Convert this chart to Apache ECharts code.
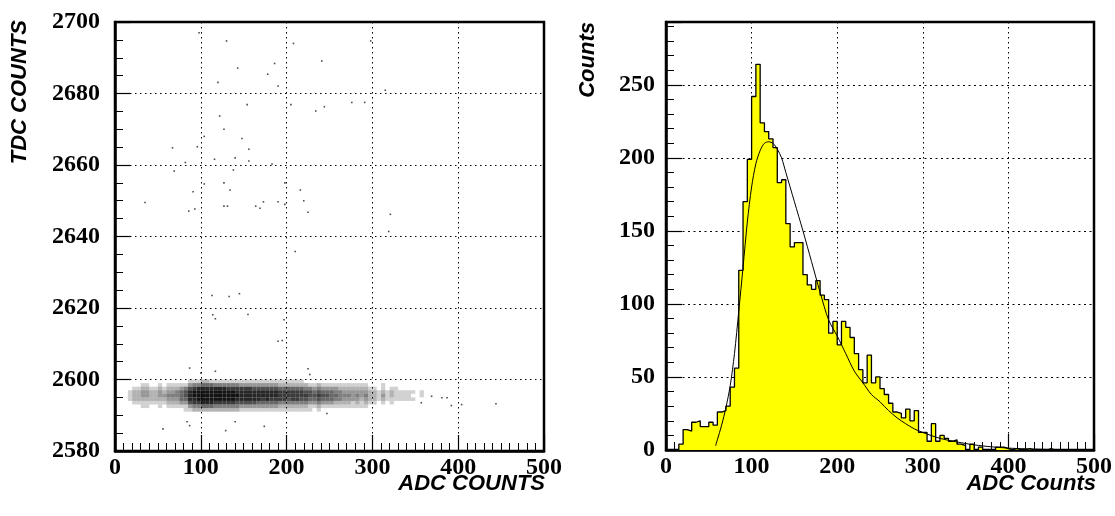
<!DOCTYPE html>
<html>
<head>
<meta charset="utf-8">
<script src="https://cdn.jsdelivr.net/npm/echarts@6/dist/echarts.min.js"></script>
<style>
  html, body { margin: 0; padding: 0; background: #fff; }
  #chart { width: 1115px; height: 516px; }
</style>
</head>
<body>
<div id="chart"></div>
<script>
// ADC spectrum, counts per 5-channel bin from 0 to 500
const BIN_WIDTH = 5;
const adcCounts = [
  0, 0, 0, 4, 14, 13, 19, 20, 16, 16,
  19, 17, 26, 27, 30, 43, 56, 123, 170, 199,
  242, 264, 224, 218, 213, 207, 183, 185, 155, 139,
  142, 142, 120, 113, 110, 116, 106, 103, 80, 88,
  72, 88, 84, 77, 66, 55, 46, 65, 46, 50,
  42, 38, 32, 26, 25, 22, 28, 20, 27, 12,
  12, 6, 18, 6, 10, 8, 6, 7, 4, 3,
  0, 4, 0, 2, 0, 0, 0, 2, 2, 1,
  0, 1, 0, 0, 1, 0, 0, 0, 0, 1,
  0, 0, 0, 0, 0, 0, 0, 0, 0, 0
];

// fitted curve
const fitAdc = [58, 60, 65, 70, 75, 80, 85, 90, 95, 100, 105, 110, 115, 120, 125, 130, 135, 140, 145, 150,
  160, 170, 180, 190, 200, 210, 220, 230, 240, 250, 260, 270, 280, 290, 300, 320, 340, 360, 380, 400, 420, 450, 500];
const fitCounts = [3, 7, 17, 29, 44, 66, 95, 125, 156, 180, 196, 205, 210, 211, 210, 206, 200, 190, 180, 170,
  150, 129, 108, 89, 78, 66, 54, 46, 38, 33, 27, 22, 18, 14.5, 12, 8, 5.5, 3.5, 2.2, 1.3, 0.8, 0.3, 0.05];

// TDC vs ADC band: darkness 0-9 per 5-channel ADC slice, rows TDC 2599 (top) .. 2591 (bottom)
const BAND_ADC0 = 10;
const BAND_TDC_TOP = 2599;
const bandColumns = [
  '000000000', '000111000', '001222100', '001222100', '012332110', '012332110', '001222100', '001222100',
  '012332110', '001232100', '012343210', '012343210', '012443210', '013555310', '014665311', '136888631',
  '147998742', '148999742', '258999852', '258999852', '158999852', '148999742', '148999742', '148999742',
  '147999742', '147999742', '147898642', '137888631', '137888631', '137888631', '136888631', '136888531',
  '136887531', '136888531', '136887531', '136887531', '125777421', '125777421', '125776421', '125777421',
  '125777421', '125776421', '024676421', '014665311', '013565310', '024676421', '013565310', '013565310',
  '013555310', '013454210', '012444210', '012343210', '012343210', '012333110', '012343210', '012332110',
  '012343210', '001222100', '001222100', '000111000', '011232100', '000111000', '001221100', '001111000',
  '000111000', '000111000', '000111000', '000101000', '000000000', '000110000'
];

// isolated events [ADC, TDC]
const scatterPoints = [
  [98, 2697], [130, 2694.7], [208, 2694], [298, 2694.7], [241, 2689.1], [186, 2688.4], [143, 2687.1],
  [178, 2685.4], [120, 2683.1], [190, 2682.1], [315, 2680.9], [154, 2676.9], [205, 2676.9], [276, 2677.5],
  [291, 2677.5], [244, 2676.3], [234, 2675.1], [122, 2673.7], [127, 2670], [104, 2668], [148, 2667.4],
  [67, 2664.8], [96, 2665.1], [156, 2664.4], [116, 2661.6], [140, 2662], [156, 2661.1], [82, 2660.7],
  [183, 2660.3], [69, 2658.3], [138, 2658.6], [104, 2654.7], [127, 2655], [198, 2655], [134, 2653],
  [91, 2652.5], [216, 2653], [220, 2650], [35, 2649.5], [127, 2648.5], [131, 2648.5], [173, 2649.7],
  [190, 2649.7], [198, 2649], [164, 2648.5], [169, 2647.9], [86, 2647.1], [93, 2647.7], [225, 2646.8],
  [321, 2646.2], [319, 2641.4], [210, 2635.8], [113, 2623.5], [133, 2623.2], [145, 2624], [114, 2618.1],
  [117, 2617], [155, 2618.2], [197, 2616.7], [190, 2610.7], [195, 2610.9],
  [56, 2586.2], [129, 2585.7], [140, 2588.2], [174, 2586.9], [84, 2588.2], [87, 2587.1], [247, 2590.5],
  [87, 2603.2], [117, 2602.3], [225, 2603], [227, 2601.4], [100, 2601.8],
  [369, 2595.3], [381, 2594.9], [387, 2594.9], [357, 2593.5], [392, 2592.7], [404, 2593], [444, 2593.2]
];

const histData = adcCounts.map((c, i) => [i * BIN_WIDTH, c]);
histData.push([adcCounts.length * BIN_WIDTH, adcCounts[adcCounts.length - 1]]);

const bandData = [];
bandColumns.forEach((col, i) => {
  for (let r = 0; r < col.length; r++) {
    const d = +col[r];
    if (d > 0) bandData.push([BAND_ADC0 + i * BIN_WIDTH, BAND_TDC_TOP - r, d]);
  }
});

const labelFont = { fontFamily: 'Liberation Serif', fontWeight: 'bold', fontSize: 24, color: '#000' };
const titleFont = 'italic bold 22px "Liberation Sans"';
const gridDots = { show: true, lineStyle: { color: '#000', width: 1, type: [1.5, 3.5] } };
const axisLine = { show: true, onZero: false, lineStyle: { color: '#000', width: 2.5 } };
const plain = v => String(v);

function xAxisFor(gridIndex) {
  return {
    type: 'value', gridIndex, min: 0, max: 500, interval: 100,
    axisLine,
    axisTick: { inside: true, length: 16, lineStyle: { color: '#000', width: 1.2 } },
    minorTick: { show: true, splitNumber: 10, length: 8, lineStyle: { color: '#000', width: 1 } },
    axisLabel: Object.assign({ margin: 5, formatter: plain }, labelFont),
    splitLine: gridDots
  };
}

const chart = echarts.init(document.getElementById('chart'), null, { renderer: 'canvas' });
chart.setOption({
  animation: false,
  backgroundColor: '#fff',
  grid: [
    { left: 115, top: 22, width: 429, height: 429, show: true, borderColor: '#000', borderWidth: 2.5 },
    { left: 666, top: 22, width: 430, height: 428, show: true, borderColor: '#000', borderWidth: 2.5 }
  ],
  xAxis: [xAxisFor(0), xAxisFor(1)],
  yAxis: [
    {
      type: 'value', gridIndex: 0, min: 2580, max: 2700, interval: 20,
      axisLine,
      axisTick: { inside: true, length: 16, lineStyle: { color: '#000', width: 1.2 } },
      minorTick: { show: true, splitNumber: 4, length: 8, lineStyle: { color: '#000', width: 1 } },
      axisLabel: Object.assign({ margin: 15, formatter: plain }, labelFont),
      splitLine: gridDots
    },
    {
      type: 'value', gridIndex: 1, position: 'left', min: 0, max: 293, interval: 50,
      axisLine,
      axisTick: { inside: true, length: 16, lineStyle: { color: '#000', width: 1.2 } },
      axisLabel: Object.assign({ margin: 11, formatter: v => (v % 50 === 0 ? String(v) : '') }, labelFont),
      splitLine: { show: true, lineStyle: { color: '#000', width: 1, type: [2, 3.5] } }
    },
    {
      // minor ticks every 10 counts
      type: 'value', gridIndex: 1, position: 'left', min: 0, max: 293, interval: 10,
      axisLine: { show: false },
      axisTick: { inside: true, length: 8, lineStyle: { color: '#000', width: 1 } },
      axisLabel: { show: false },
      splitLine: { show: false }
    }
  ],
  series: [
    {
      type: 'custom', xAxisIndex: 0, yAxisIndex: 0, clip: true,
      data: bandData,
      renderItem: (params, api) => {
        const adc = api.value(0), tdc = api.value(1), d = api.value(2);
        const p0 = api.coord([adc, tdc + 1]);
        const p1 = api.coord([adc + BIN_WIDTH, tdc]);
        return {
          type: 'rect',
          shape: { x: p0[0], y: p0[1], width: p1[0] - p0[0], height: p1[1] - p0[1] },
          style: { fill: 'rgba(0,0,0,' + (0.93 * Math.pow(d / 9, 0.75)).toFixed(3) + ')' }
        };
      }
    },
    {
      type: 'scatter', xAxisIndex: 0, yAxisIndex: 0,
      data: scatterPoints, symbol: 'rect', symbolSize: 1.6,
      itemStyle: { color: '#222' }
    },
    {
      type: 'line', xAxisIndex: 1, yAxisIndex: 1,
      data: histData, step: 'end', symbol: 'none',
      lineStyle: { color: '#000', width: 1.3 },
      areaStyle: { color: '#ffff00', opacity: 1 }
    },
    {
      type: 'line', xAxisIndex: 1, yAxisIndex: 1,
      data: fitAdc.map((x, i) => [x, fitCounts[i]]), smooth: 0.3, symbol: 'none',
      lineStyle: { color: '#000', width: 1 }
    }
  ],
  graphic: [
    { type: 'text', x: 20, y: 20, rotation: Math.PI / 2,
      style: { text: 'TDC COUNTS', font: titleFont, fill: '#000', align: 'right', verticalAlign: 'middle' } },
    { type: 'text', x: 545, y: 484,
      style: { text: 'ADC COUNTS', font: titleFont, fill: '#000', align: 'right', verticalAlign: 'middle' } },
    { type: 'text', x: 588, y: 22, rotation: Math.PI / 2,
      style: { text: 'Counts', font: titleFont, fill: '#000', align: 'right', verticalAlign: 'middle' } },
    { type: 'text', x: 1096, y: 484,
      style: { text: 'ADC Counts', font: titleFont, fill: '#000', align: 'right', verticalAlign: 'middle' } }
  ]
});
</script>
</body>
</html>
